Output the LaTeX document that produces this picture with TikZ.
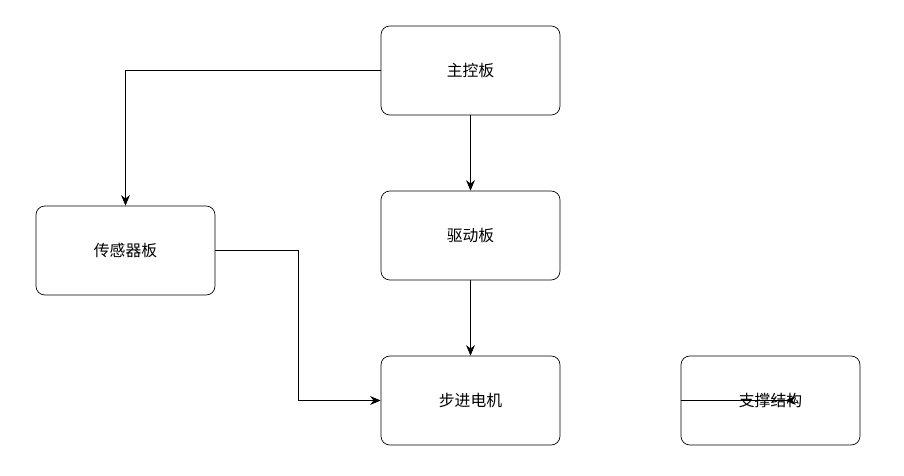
\documentclass[tikz,border=0pt]{standalone}
\usepackage{fontspec}
\setmainfont{Noto Sans CJK SC}
\usetikzlibrary{arrows.meta}

\begin{document}
\begin{tikzpicture}[x=0.02cm, y=-0.02cm,
	box/.style={draw, rounded corners=5pt, minimum width=3.58cm, minimum height=1.78cm, font=\small},
	link/.style={-{Stealth[length=6pt, width=5pt]}}]
	\useasboundingbox (0,0) rectangle (904,476);
	% Boards
	\node[box] (main) at (470.5,70.5) {主控板};
	\node[box] (drive) at (470.5,235.5) {驱动板};
	\node[box] (sensor) at (125.5,250.5) {传感器板};
	\node[box] (motor) at (470.5,400.5) {步进电机};
	\node[box] (frame) at (770.5,400.5) {支撑结构};
	
	% Links
	\draw[link] (main.west) -| (sensor.north);
	\draw[link] (main.south) -- (drive.north);
	\draw[link] (drive.south) -- (motor.north);
	\draw[link] (sensor.east) -| (298,400.5) -- (motor.west);
	\draw[link, shorten >=16\pgflinewidth*20] (frame.west) -- (motor.east);
\end{tikzpicture}
\end{document}
